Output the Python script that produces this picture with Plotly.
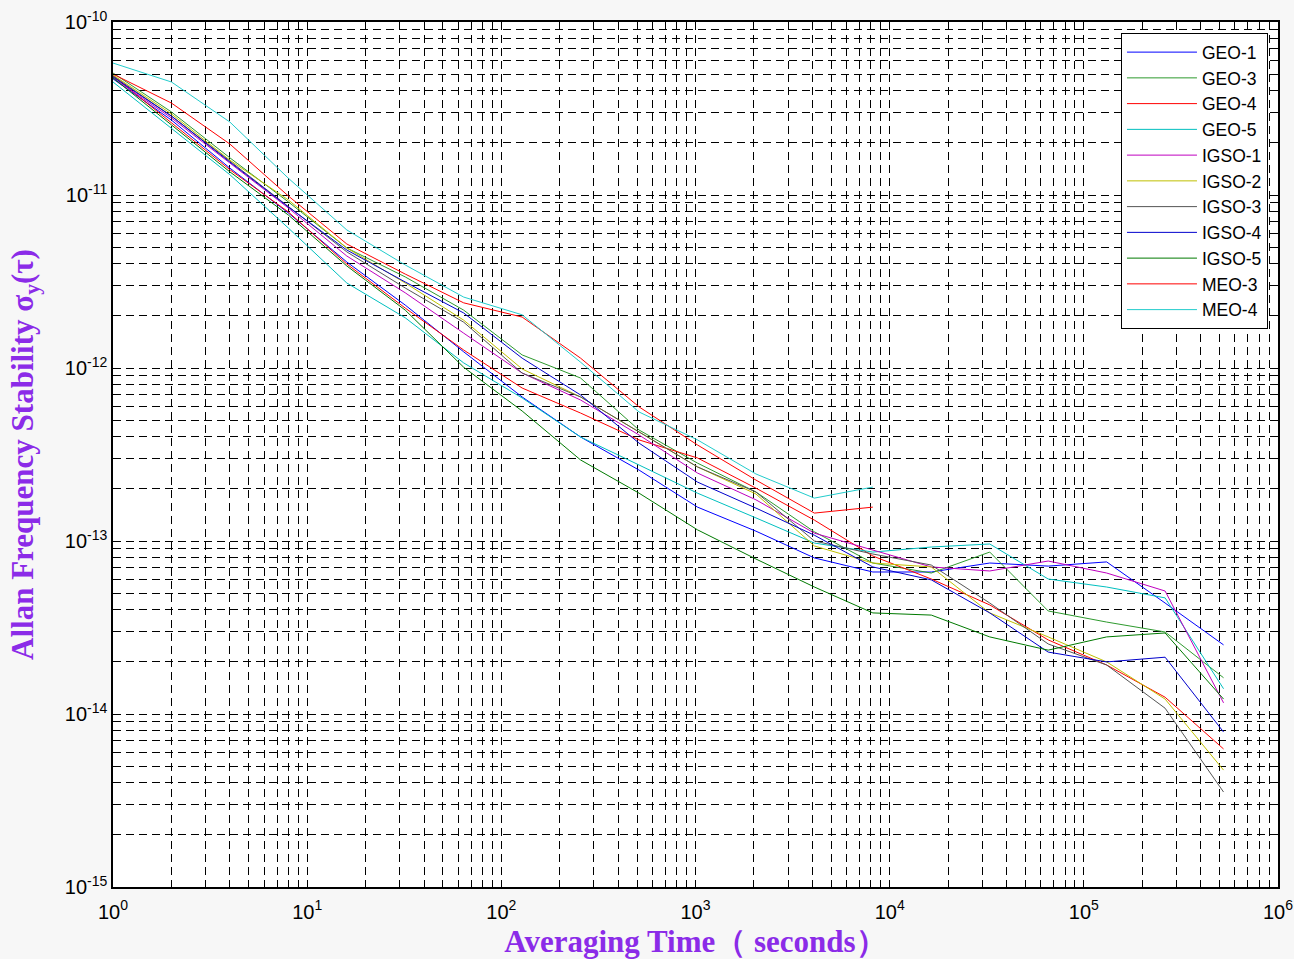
import plotly.graph_objects as go

# Averaging time (s)
tau = [1, 2, 4, 8, 16, 32, 64, 128, 256, 512, 1024, 2048, 4096, 8192,
       16384, 32768, 65536, 131072, 262144, 524288]

# Allan deviation values
geo1 = [4.69e-11, 2.71e-11, 1.43e-11, 7.87e-12, 4.10e-12, 2.31e-12, 1.24e-12, 6.80e-13, 3.99e-13, 2.57e-13,
        1.57e-13, 1.14e-13, 7.98e-14, 6.62e-14, 6.62e-14, 7.46e-14, 7.16e-14, 7.57e-14, 4.38e-14, 2.51e-14]
geo3 = [5.07e-11, 3.02e-11, 1.64e-11, 9.12e-12, 4.94e-12, 3.36e-12, 2.16e-12, 1.19e-12, 8.75e-13, 4.38e-13,
        2.82e-13, 1.92e-13, 1.13e-13, 7.46e-14, 6.53e-14, 8.63e-14, 3.94e-14, 3.40e-14, 2.98e-14, 1.62e-14]
geo4 = [4.88e-11, 2.61e-11, 1.40e-11, 7.98e-12, 3.99e-12, 2.22e-12, 1.27e-12, 7.66e-13, 5.49e-13, 3.84e-13,
        3.02e-13, 2.02e-13, 1.32e-13, 8.19e-14, 6.03e-14, 4.27e-14, 2.68e-14, 1.92e-14, 1.25e-14, 6.28e-15]
geo5 = [4.50e-11, 2.44e-11, 1.31e-11, 6.44e-12, 3.10e-12, 1.95e-12, 1.07e-12, 6.71e-13, 3.99e-13, 2.75e-13,
        1.89e-13, 1.36e-13, 9.73e-14, 8.63e-14, 9.23e-14, 9.61e-14, 6.03e-14, 5.42e-14, 4.69e-14, 1.40e-14]
igso1 = [4.75e-11, 2.79e-11, 1.53e-11, 8.41e-12, 4.44e-12, 2.72e-12, 1.59e-12, 9.35e-13, 6.53e-13, 4.10e-13,
         2.47e-13, 1.73e-13, 1.11e-13, 8.87e-14, 7.08e-14, 6.71e-14, 7.66e-14, 6.53e-14, 5.14e-14, 1.16e-14]
igso2 = [4.94e-11, 2.94e-11, 1.59e-11, 9.36e-12, 4.94e-12, 3.10e-12, 1.89e-12, 9.87e-13, 6.80e-13, 4.27e-13,
         2.68e-13, 1.87e-13, 9.36e-14, 7.46e-14, 7.08e-14, 3.84e-14, 2.79e-14, 2.00e-14, 1.22e-14, 4.74e-15]
igso3 = [4.88e-11, 2.86e-11, 1.57e-11, 8.53e-12, 4.69e-12, 2.90e-12, 1.84e-12, 9.35e-13, 6.80e-13, 4.27e-13,
         2.68e-13, 1.92e-13, 1.00e-13, 8.41e-14, 7.26e-14, 4.38e-14, 2.54e-14, 1.92e-14, 1.08e-14, 3.54e-15]
igso4 = [4.81e-11, 2.86e-11, 1.55e-11, 8.53e-12, 4.81e-12, 3.14e-12, 2.08e-12, 1.14e-12, 6.98e-13, 3.68e-13,
         2.19e-13, 1.55e-13, 1.08e-13, 7.08e-14, 5.96e-14, 3.84e-14, 2.28e-14, 2.00e-14, 2.13e-14, 7.87e-15]
igso5 = [4.75e-11, 2.54e-11, 1.36e-11, 7.66e-12, 3.89e-12, 2.16e-12, 1.01e-12, 5.64e-13, 2.94e-13, 1.89e-13,
         1.16e-13, 7.87e-14, 5.42e-14, 3.84e-14, 3.73e-14, 2.79e-14, 2.34e-14, 2.79e-14, 2.94e-14, 1.22e-14]
meo3 = [5.00e-11, 3.40e-11, 1.97e-11, 9.87e-12, 5.21e-12, 3.49e-12, 2.38e-12, 1.97e-12, 1.14e-12, 5.96e-13,
        3.59e-13, 2.25e-13, 1.45e-13, 1.57e-13]
meo4 = [5.79e-11, 4.50e-11, 2.64e-11, 1.25e-11, 6.28e-12, 3.94e-12, 2.57e-12, 2.03e-12, 1.08e-12, 5.57e-13,
        3.84e-13, 2.44e-13, 1.77e-13, 2.05e-13]

names = ["GEO-1", "GEO-3", "GEO-4", "GEO-5", "IGSO-1", "IGSO-2", "IGSO-3", "IGSO-4", "IGSO-5", "MEO-3", "MEO-4"]
values = [geo1, geo3, geo4, geo5, igso1, igso2, igso3, igso4, igso5, meo3, meo4]
colors = ["#0000FF", "#2E9A2E", "#FF0000", "#00BFBF", "#BF00BF", "#BFBF00", "#555555",
          "#0000CC", "#007A00", "#FF0000", "#22CCCC"]

x_major = [1, 10, 100, 1000, 10000, 100000, 1000000]
x_labels = ["10<sup>0</sup>", "10<sup>1</sup>", "10<sup>2</sup>", "10<sup>3</sup>",
            "10<sup>4</sup>", "10<sup>5</sup>", "10<sup>6</sup>"]
y_major = [1e-15, 1e-14, 1e-13, 1e-12, 1e-11, 1e-10]
y_labels = ["10<sup>-15</sup>", "10<sup>-14</sup>", "10<sup>-13</sup>", "10<sup>-12</sup>",
            "10<sup>-11</sup>", "10<sup>-10</sup>"]
x_minor = [m * d for d in x_major[:-1] for m in range(2, 10)]
y_minor = [m * d for d in y_major[:-1] for m in range(2, 10)]

fig = go.Figure()
for name, vals, color in zip(names, values, colors):
    fig.add_trace(go.Scatter(x=tau[:len(vals)], y=vals, mode="lines", name=name,
                             line=dict(color=color, width=1)))

grid_dash = "8px,5px"
tickfont = dict(family="Liberation Sans, Arial, sans-serif", size=20, color="black")
title_font = dict(family="Liberation Serif, Times New Roman, serif", size=31, color="#8B2BE8", weight="bold")

fig.update_xaxes(
    type="log", range=[0, 6], tickmode="array", tickvals=x_major, ticktext=x_labels,
    showgrid=True, gridcolor="black", gridwidth=1, griddash=grid_dash,
    ticks="inside", ticklen=7, tickcolor="black", ticklabelstandoff=6,
    minor=dict(tickmode="array", tickvals=x_minor, showgrid=True, gridcolor="black",
               griddash=grid_dash, gridwidth=1, ticks="inside", ticklen=4, tickcolor="black"),
    showline=True, linecolor="black", linewidth=1.5, mirror="allticks", zeroline=False,
    tickfont=tickfont,
    title=dict(text="Averaging Time（ seconds）", font=title_font, standoff=10),
)
fig.update_yaxes(
    type="log", range=[-15, -10], tickmode="array", tickvals=y_major, ticktext=y_labels,
    showgrid=True, gridcolor="black", gridwidth=1, griddash=grid_dash,
    ticks="inside", ticklen=7, tickcolor="black",
    minor=dict(tickmode="array", tickvals=y_minor, showgrid=True, gridcolor="black",
               griddash=grid_dash, gridwidth=1, ticks="inside", ticklen=4, tickcolor="black"),
    showline=True, linecolor="black", linewidth=1.5, mirror="allticks", zeroline=False,
    tickfont=tickfont,
    title=dict(text="Allan Frequency Stability σ<sub>y</sub>(τ)", font=title_font, standoff=22),
)

fig.update_layout(
    width=1294, height=959,
    margin=dict(l=113, r=16, t=22, b=72, autoexpand=False),
    paper_bgcolor="#F7F7F7", plot_bgcolor="white",
    showlegend=True,
    legend=dict(x=0.9914, y=0.987, xanchor="right", yanchor="top", itemwidth=70,
                bgcolor="white", bordercolor="black", borderwidth=1,
                font=dict(family="Liberation Sans, Arial, sans-serif", size=17.5, color="black")),
)

fig.write_html("out.html", config={"displayModeBar": False},
               post_script="document.body.style.margin='0px';document.body.style.background='#F7F7F7';")
